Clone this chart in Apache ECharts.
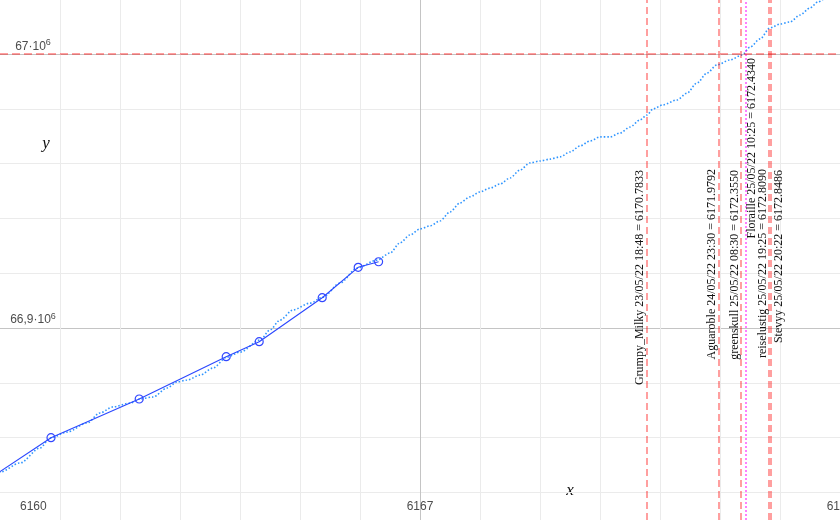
<!DOCTYPE html>
<html>
<head>
<meta charset="utf-8">
<script src="https://cdn.jsdelivr.net/npm/echarts@6/dist/echarts.min.js"></script>
<style>html,body{margin:0;padding:0;background:#fff;overflow:hidden;width:840px;height:520px}#c{width:840px;height:520px}</style>
</head>
<body>
<div id="c"></div>
<script>
// ---- data ----
const curveX = [6159.667, 6160.000, 6160.333, 6160.667, 6160.833, 6161.117, 6161.450, 6161.667, 6161.883, 6162.167, 6162.333, 6162.550, 6162.783, 6162.950, 6163.117, 6163.333, 6163.550, 6163.783, 6164.000, 6164.333, 6164.500, 6164.667, 6164.883, 6165.167, 6165.383, 6165.667, 6165.950, 6166.283, 6166.500, 6166.667, 6166.833, 6167.000, 6167.167, 6167.333, 6167.500, 6167.667, 6167.833, 6168.000, 6168.167, 6168.333, 6168.500, 6168.667, 6168.833, 6169.000, 6169.167, 6169.333, 6169.500, 6169.667, 6169.833, 6170.000, 6170.167, 6170.333, 6170.500, 6170.667, 6170.783, 6170.883, 6171.050, 6171.283, 6171.450, 6171.617, 6171.783, 6171.950, 6172.167, 6172.367, 6172.500, 6172.667, 6172.833, 6173.000, 6173.167, 6173.333, 6173.500, 6173.633, 6173.800];
const curveY = [66844100, 66847400, 66850700, 66856200, 66859800, 66862000, 66865300, 66869000, 66871200, 66872600, 66874100, 66874800, 66878100, 66880300, 66881000, 66882800, 66885400, 66889400, 66891200, 66895600, 66899300, 66902900, 66906600, 66909100, 66911300, 66916400, 66921900, 66924800, 66927400, 66931100, 66934000, 66936200, 66937300, 66939100, 66942400, 66945700, 66947900, 66949700, 66951100, 66952600, 66954800, 66957700, 66960300, 66961000, 66961700, 66962500, 66964300, 66966500, 66968300, 66969800, 66969800, 66971200, 66973400, 66976000, 66977800, 66980000, 66981500, 66983300, 66985800, 66989500, 66993100, 66996100, 66997900, 66999700, 67002600, 67005600, 67009600, 67011000, 67011800, 67014300, 67016900, 67019100, 67021500];
const pointX = [6159.50, 6160.85, 6162.32, 6163.77, 6164.32, 6165.37, 6165.97, 6166.31];
const pointY = [66840230, 66859950, 66874080, 66889530, 66895010, 66911080, 66922180, 66924220];
const markNames = ['Grumpy_Milky', 'Aguaroble', 'greenskull', 'Floraille', 'reiselustig', 'Stevyy'];
const markDates = ['23/05/22 18:48', '24/05/22 23:30', '25/05/22 08:30', '25/05/22 10:25', '25/05/22 19:25', '25/05/22 20:22'];
const markValues = [6170.7833, 6171.9792, 6172.3550, 6172.4340, 6172.8090, 6172.8486];
const highlightName = 'Floraille';
const targetY = 67000000;
const xTicks = [6160, 6167, 6174];
const yTicks = [66900000, 67000000];

// ---- layout (not data) ----
const labelSide = ['left', 'left', 'left', 'right', 'left', 'right'];
const labelEndGap = [170, 169, 170, 58, 169, 170];
const labelPerp = [0.5, 0.5, 0.5, 0, 0, 2];

const chart = echarts.init(document.getElementById('c'), null, {renderer: 'canvas', width: 840, height: 520});
const serif = '"Liberation Serif", "Times New Roman", serif';
const sans = '"Liberation Sans", Arial, sans-serif';
const txtCol = '#4d4d4d';

const markLineData = markValues.map((v, i) => {
  const hl = markNames[i] === highlightName;
  return {
    xAxis: v,
    lineStyle: hl ? {color: 'rgba(255,0,255,0.5)', type: [2, 2], width: 2} : {color: 'rgba(255,0,0,0.5)', type: [7, 4], width: 1.5},
    label: {
      show: true,
      position: labelSide[i] === 'left' ? 'insideEndTop' : 'insideEndBottom',
      distance: [labelEndGap[i], labelPerp[i]],
      formatter: markNames[i] + ' ' + markDates[i] + ' = ' + v.toFixed(4),
      fontFamily: serif, fontSize: 12, color: '#111'
    }
  };
});
markLineData.push({
  yAxis: targetY,
  lineStyle: {color: 'rgba(255,0,0,0.5)', type: [8, 4], width: 1.5},
  label: {show: false}
});

const option = {
  animation: false,
  backgroundColor: '#fff',
  grid: {left: 0, right: 0, top: 0, bottom: 0, containLabel: false, outerBoundsMode: 'none'},
  xAxis: {
    type: 'value', min: 6160, max: 6174, interval: 7,
    axisLine: {show: false}, axisTick: {show: false},
    axisLabel: {
      inside: true, margin: 7, fontSize: 12, fontFamily: sans, color: txtCol,
      alignMinLabel: 'left',
      formatter: v => xTicks.indexOf(v) < 0 ? '' : (v === xTicks[0] ? '{first|' + v + '}' : String(v)),
      rich: {first: {padding: [0, 0, 0, 20], fontSize: 12, fontFamily: sans, color: txtCol}}
    },
    splitLine: {show: true, showMinLine: false, showMaxLine: false, lineStyle: {color: '#c4c4c4', width: 1}},
    minorTick: {show: false, splitNumber: 7},
    minorSplitLine: {show: true, lineStyle: {color: '#ebebeb', width: 1}}
  },
  yAxis: {
    type: 'value', min: 66829900, max: 67019800, minInterval: 100000, maxInterval: 100000,
    axisLine: {show: false}, axisTick: {show: false},
    axisLabel: {
      inside: true, margin: 33, align: 'center', verticalAlign: 'bottom',
      showMinLabel: false, showMaxLabel: false,
      formatter: v => {
        if (yTicks.indexOf(v) < 0) return '';
        const m = String(v / 1e6).replace('.', ',');
        return '{n|' + m + '·10}{s|6}';
      },
      rich: {
        n: {fontSize: 12, fontFamily: sans, color: txtCol, verticalAlign: 'bottom', padding: [0, 0, 2, 0]},
        s: {fontSize: 9, fontFamily: sans, color: txtCol, verticalAlign: 'top', padding: [0, 0, 7, 0]}
      }
    },
    splitLine: {show: true, showMinLine: false, showMaxLine: false, lineStyle: {color: '#c4c4c4', width: 1}},
    minorTick: {show: false, splitNumber: 5},
    minorSplitLine: {show: true, lineStyle: {color: '#ebebeb', width: 1}}
  },
  series: [
    {
      type: 'line',
      data: curveX.map((x, i) => [x, curveY[i]]),
      showSymbol: false, smooth: 0.3, smoothMonotone: 'x',
      lineStyle: {color: '#2f95ff', width: 1.6, type: [1.5, 2]},
      z: 3,
      markLine: {
        silent: true, symbol: ['none', 'none'], animation: false,
        data: markLineData
      }
    },
    {
      type: 'line',
      data: pointX.map((x, i) => [x, pointY[i]]),
      symbol: 'circle', symbolSize: 8,
      itemStyle: {color: 'rgba(0,0,0,0)', borderColor: '#3348ff', borderWidth: 1.2},
      lineStyle: {color: '#2a47ff', width: 1.1},
      z: 4
    }
  ],
  graphic: [
    {type: 'text', x: 46, y: 144, style: {text: 'y', font: 'italic 17px ' + serif, fill: '#111', textAlign: 'center', textVerticalAlign: 'middle'}},
    {type: 'text', x: 570, y: 491, style: {text: 'x', font: 'italic 17px ' + serif, fill: '#111', textAlign: 'center', textVerticalAlign: 'middle'}}
  ]
};
chart.setOption(option);
</script>
</body>
</html>
